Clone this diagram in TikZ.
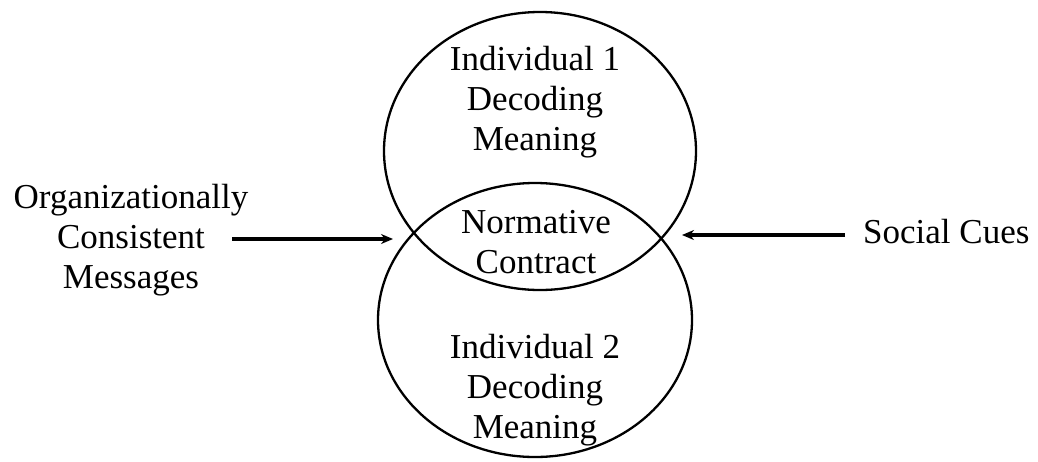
\documentclass[tikz,border=0pt]{standalone}
\usepackage{fontspec}
\setmainfont{Liberation Serif}
\usetikzlibrary{shapes.geometric,arrows.meta}
\tikzset{
  blob/.style={draw, ellipse, line width=2.3pt, inner sep=0pt},
  lbl/.style={align=center, inner sep=0pt, font=\fontsize{35}{40}\selectfont},
  arr/.style={line width=3.2pt, -{Stealth[length=12pt,width=10pt]}}
}
\begin{document}
\begin{tikzpicture}[x=1pt,y=-1pt]
\useasboundingbox (0,0) rectangle (1038,461);
\node[blob, minimum width=312pt, minimum height=278pt] (top) at (540,151) {};
\node[blob, minimum width=314pt, minimum height=274pt] (bot) at (535,320) {};
\node[lbl] (ind1) at (535,102) {Individual 1\\Decoding\\Meaning};
\node[lbl] (norm) at (536,242) {Normative\\Contract};
\node[lbl] (ind2) at (535,390) {Individual 2\\Decoding\\Meaning};
\node[lbl] (org) at (131,240) {Organizationally\\Consistent\\Messages};
\node[lbl, anchor=base west] (soc) at (863,243) {Social Cues};
\coordinate (ls) at (232,239);
\coordinate (le) at (393,239);
\coordinate (rs) at (845,235);
\coordinate (re) at (682,235);
\draw[arr] (ls) -- (le);
\draw[arr] (rs) -- (re);
\end{tikzpicture}
\end{document}
